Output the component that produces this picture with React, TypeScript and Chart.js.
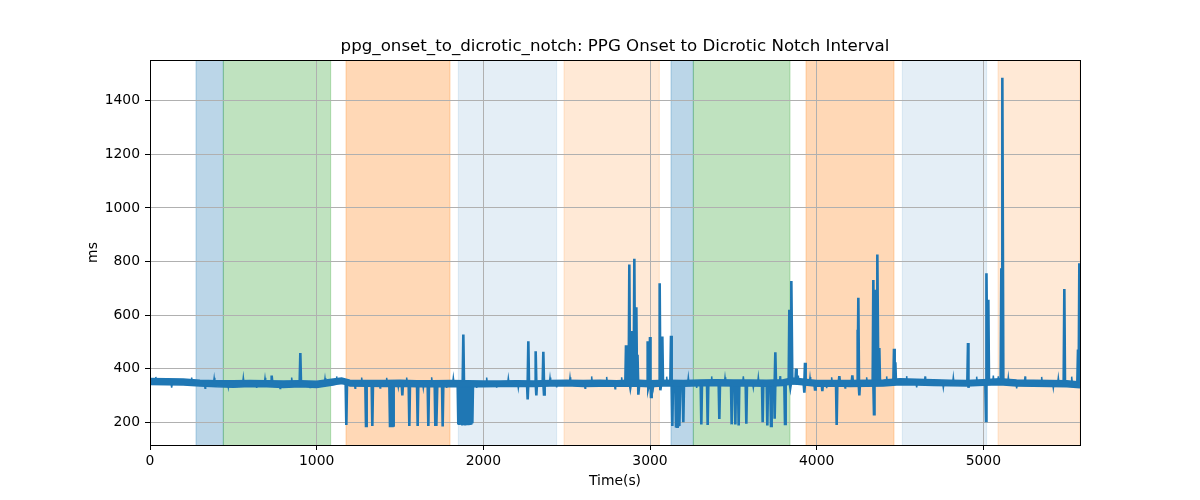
import React, { useEffect, useRef } from 'react'
import { Chart, registerables, type ChartConfiguration, type Plugin } from 'chart.js'

Chart.register(...registerables)

const TITLE = 'ppg_onset_to_dicrotic_notch: PPG Onset to Dicrotic Notch Interval'

// shaded phases, seconds
const spanStart = [276, 440, 1176, 1850, 2484, 3126, 3260, 3936, 4514, 5088]
const spanEnd   = [440, 1084, 1800, 2440, 3056, 3260, 3840, 4464, 5020, 5580]
const spanColor = [
  'rgba(31,119,180,0.3)', 'rgba(44,160,44,0.3)', 'rgba(255,127,14,0.3)',
  'rgba(31,119,180,0.12)', 'rgba(255,127,14,0.17)',
  'rgba(31,119,180,0.3)', 'rgba(44,160,44,0.3)', 'rgba(255,127,14,0.3)',
  'rgba(31,119,180,0.12)', 'rgba(255,127,14,0.17)',
]

// beat-to-beat noise band (upper / lower envelope, ms)
const bandT  = [0, 100, 200, 300, 400, 500, 600, 700, 800, 900, 1000, 1100, 1150, 1200, 1300, 1400, 1500, 1600, 1700, 1800,
  1900, 2000, 2100, 2200, 2300, 2400, 2500, 2600, 2700, 2800, 2900, 3000, 3100, 3200, 3300, 3400, 3500, 3600, 3700, 3800,
  3850, 3900, 4000, 4100, 4200, 4300, 4400, 4500, 4600, 4700, 4800, 4900, 5000, 5100, 5200, 5300, 5400, 5500, 5580]
const bandHi = [363, 362, 361, 357, 355, 355, 356, 355, 354, 355, 353, 361, 365, 357, 356, 356, 357, 355, 355, 356,
  355, 354, 354, 355, 354, 356, 357, 356, 357, 355, 358, 355, 357, 356, 358, 359, 358, 358, 357, 359,
  365, 362, 356, 356, 356, 357, 358, 362, 360, 359, 357, 356, 359, 362, 358, 357, 356, 355, 350]
const bandLo = [341, 340, 339, 335, 332, 331, 333, 332, 330, 332, 330, 339, 346, 335, 334, 333, 334, 332, 332, 333,
  332, 332, 333, 334, 333, 335, 336, 333, 334, 334, 335, 332, 336, 334, 336, 336, 335, 335, 334, 337,
  344, 341, 334, 335, 333, 334, 335, 340, 339, 337, 336, 335, 338, 340, 335, 334, 333, 332, 329]

// level the trace sits at between outliers
const baseLevel = 346

// small jitter poking out of the band (time s, interval ms)
const jitterT = [35, 130, 250, 330, 385, 470, 560, 640, 690, 780, 850, 960, 1050, 1120, 1230, 1270, 1380, 1420, 1490, 1540,
  1640, 1690, 1780, 1820, 1960, 2020, 2080, 2150, 2210, 2400, 2440, 2520, 2610, 2650, 2740, 2790, 2830, 3020, 3100, 3230,
  3280, 3370, 3450, 3560, 3620, 3650, 3780, 3890, 3960, 4060, 4090, 4170, 4300, 4420, 4540, 4600, 4650, 4760, 4820, 4960,
  5060, 5090, 5150, 5200, 5250, 5350, 5420, 5450, 5530]
const jitterV = [369, 329, 367, 327, 366, 330, 368, 328, 366, 326, 367, 330, 365, 371, 327, 367, 328, 366, 329, 367,
  326, 368, 328, 367, 328, 367, 329, 366, 327, 367, 330, 368, 327, 371, 369, 325, 368, 327, 370, 369,
  328, 371, 368, 371, 328, 370, 372, 374, 369, 327, 368, 328, 368, 371, 372, 330, 371, 328, 369, 370,
  374, 371, 369, 326, 371, 369, 327, 367, 370]

// outlier beats (time s, interval ms)
const spikeT = [730, 902, 1178, 1296, 1334, 1440, 1446, 1452, 1458, 1514, 1556, 1606, 1670, 1712, 1720, 1756,
  1850, 1856, 1862, 1868, 1874, 1880, 1886, 1892, 1898, 1904, 1910, 1916, 1922, 1928, 1934,
  2266, 2270, 2314, 2318, 2360, 2364,
  2856, 2862, 2876, 2882, 2889, 2906, 2912, 2918, 2925, 2932, 2986, 2992, 3000, 3006, 3058, 3064, 3074,
  3126, 3134, 3156, 3162, 3170, 3178, 3200, 3308, 3346, 3416, 3490, 3512, 3532, 3578, 3676, 3704, 3726, 3748, 3752, 3810,
  3836, 3842, 3850, 3876, 3926, 3930, 3990, 4034, 4120, 4136, 4214, 4246, 4250, 4256,
  4340, 4344, 4350, 4360, 4366, 4376, 4464, 4472, 4908, 4912, 5016, 5020, 5030, 5108, 5116, 5486, 5568, 5576]
const spikeV = [374, 458, 190, 186, 186, 186, 187, 186, 188, 300, 186, 186, 186, 186, 186, 184,
  192, 190, 194, 191, 188, 527, 190, 188, 192, 190, 189, 193, 190, 192, 196,
  285, 502, 465, 300, 463, 304,
  487, 420, 789, 330, 540, 810, 380, 629, 452, 303, 502, 330, 518, 294, 719, 319, 520,
  523, 186, 185, 183, 184, 186, 200, 192, 190, 212, 192, 192, 188, 194, 200, 188, 186, 213, 461, 194,
  620, 330, 727, 400, 310, 422, 322, 316, 190, 372, 375, 545, 665, 300,
  731, 230, 694, 564, 826, 477, 474, 424, 496, 329, 205, 756, 657, 775, 1486, 697, 471, 793]

const xTicks = [0, 1000, 2000, 3000, 4000, 5000]
const yTicks = [200, 400, 600, 800, 1000, 1200, 1400]

const LINE = '#1f77b4'
const FONT = 'DejaVu Sans'

const spansPlugin: Plugin = {
  id: 'spans',
  beforeDraw(chart) {
    const { ctx, chartArea: a, scales } = chart
    const x = scales.x
    ctx.save()
    ctx.beginPath()
    ctx.rect(a.left, a.top, a.right - a.left, a.bottom - a.top)
    ctx.clip()
    spanStart.forEach((s, i) => {
      const x0 = x.getPixelForValue(s)
      const x1 = x.getPixelForValue(spanEnd[i])
      ctx.fillStyle = spanColor[i]
      ctx.fillRect(x0, a.top, x1 - x0, a.bottom - a.top)
      ctx.strokeStyle = spanColor[i]
      ctx.lineWidth = 1
      ctx.beginPath()
      ctx.moveTo(x0, a.top); ctx.lineTo(x0, a.bottom)
      ctx.moveTo(x1, a.top); ctx.lineTo(x1, a.bottom)
      ctx.stroke()
    })
    ctx.restore()
  },
}

const framePlugin: Plugin = {
  id: 'frame',
  afterDatasetsDraw(chart) {
    const { ctx, chartArea: a } = chart
    ctx.save()
    ctx.strokeStyle = '#000'
    ctx.lineWidth = 1
    ctx.strokeRect(Math.round(a.left) + 0.5, Math.round(a.top) + 0.5,
      Math.round(a.right - a.left), Math.round(a.bottom - a.top))
    ctx.restore()
  },
}

// each outlier is drawn as a short excursion away from the base level
const excursions = (ts: number[], vs: number[], half: number) =>
  ts.flatMap((t, i) => [
    { x: t - half, y: baseLevel }, { x: t, y: vs[i] }, { x: t + half, y: baseLevel },
  ])

export default function App() {
  const canvasRef = useRef<HTMLCanvasElement>(null)
  const chartRef = useRef<Chart | null>(null)

  useEffect(() => {
    document.body.style.margin = '0'
    if (!canvasRef.current) return
    chartRef.current?.destroy()

    const hi = bandT.map((t, i) => ({ x: t, y: bandHi[i] }))
    const lo = bandT.map((t, i) => ({ x: t, y: bandLo[i] }))

    const tickFont = { family: FONT, size: 13.9 }
    const line = { borderColor: LINE, backgroundColor: LINE, pointRadius: 0, tension: 0 }

    const cfg: ChartConfiguration = {
      type: 'line',
      data: {
        datasets: [
          { ...line, data: hi, borderWidth: 1.5, fill: '+1' },
          { ...line, data: lo, borderWidth: 1.5, fill: false },
          { ...line, data: excursions(jitterT, jitterV, 4), borderWidth: 1.5, fill: false },
          { ...line, data: excursions(spikeT, spikeV, 4), borderWidth: 2.6, fill: false },
        ],
      },
      options: {
        responsive: false,
        animation: false,
        events: [],
        layout: { padding: { left: 0, right: 120, top: 0, bottom: 0 } },
        plugins: {
          legend: { display: false },
          tooltip: { enabled: false },
          title: {
            display: true, text: TITLE, color: '#000', fullSize: false,
            font: { family: FONT, size: 16.67, weight: 'normal' },
            padding: { top: 37, bottom: 3 },
          },
        },
        scales: {
          x: {
            type: 'linear', min: 0, max: 5580,
            afterBuildTicks: (s: any) => { s.ticks = xTicks.map(v => ({ value: v })) },
            afterFit: (s: any) => { s.height = 55 },
            ticks: { color: '#000', font: tickFont, maxRotation: 0, autoSkip: false, padding: 3, callback: (v: any) => String(v) },
            grid: { color: '#b0b0b0', lineWidth: 1, tickColor: '#000', tickLength: 5 },
            border: { display: false },
            title: { display: true, text: 'Time(s)', color: '#000', font: { family: FONT, size: 13.9 }, padding: { top: 0, bottom: 10.7 } },
          },
          y: {
            type: 'linear', min: 115, max: 1552,
            afterBuildTicks: (s: any) => { s.ticks = yTicks.map(v => ({ value: v })) },
            afterFit: (s: any) => { s.width = 150 },
            ticks: { color: '#000', font: tickFont, autoSkip: false, padding: 5, callback: (v: any) => String(v) },
            grid: { color: '#b0b0b0', lineWidth: 1, tickColor: '#000', tickLength: 5 },
            border: { display: false },
            title: { display: true, text: 'ms', color: '#000', font: { family: FONT, size: 13.9 }, padding: { top: 84.7, bottom: 0 } },
          },
        },
      },
      plugins: [spansPlugin, framePlugin],
    }
    chartRef.current = new Chart(canvasRef.current, cfg)
    return () => { chartRef.current?.destroy() }
  }, [])

  return (
    <div style={{ width: 1200, height: 500 }}>
      <canvas ref={canvasRef} width={1200} height={500} style={{ display: 'block', width: 1200, height: 500 }} />
    </div>
  )
}
